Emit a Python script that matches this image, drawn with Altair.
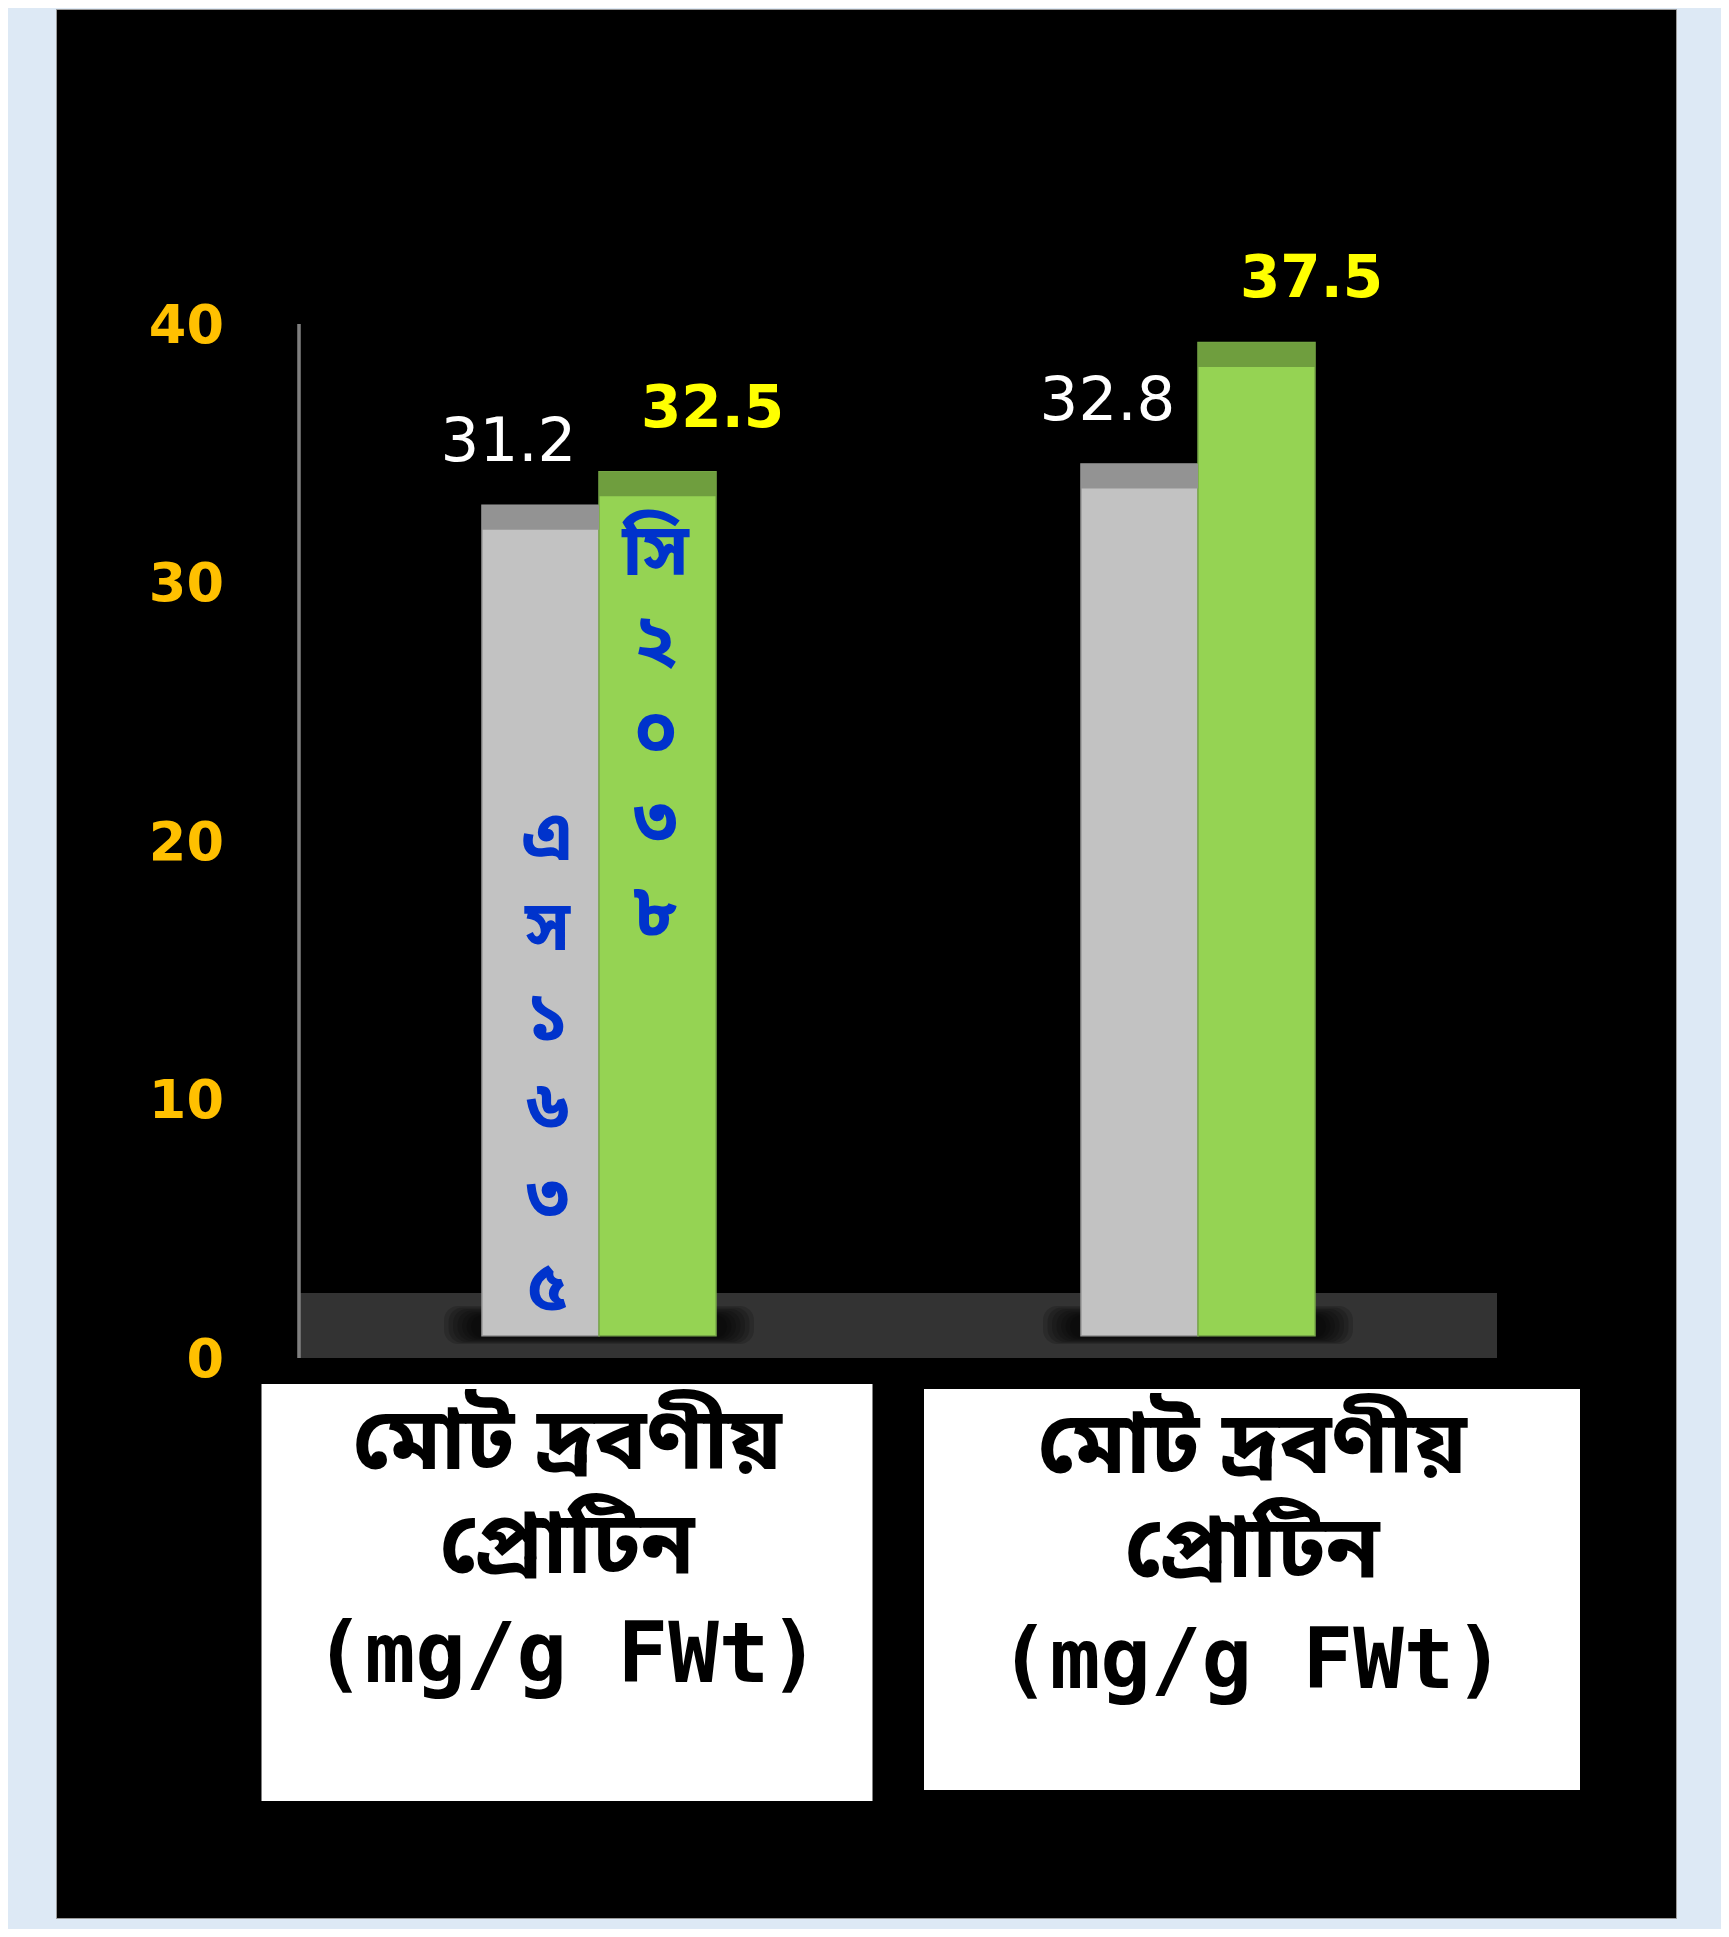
import unicodedata
import altair as alt
import pandas as pd

# ---------------- data ----------------
GROUP_IDS = ["g1", "g2"]
GROUP_TITLE_BN = ["মোট দ্রবণীয়\nপ্রোটিন", "মোট দ্রবণীয়\nপ্রোটিন"]
GROUP_TITLE_UNIT = ["(mg/g FWt)", "(mg/g FWt)"]
VARIETIES = ["এস১৬৩৫", "সি২০৩৮"]
VALUES_S1635 = [31.2, 32.8]
VALUES_C2038 = [32.5, 37.5]
TICKS = [0, 10, 20, 30, 40]

# ---------------- style ----------------
FLOOR_SHIFT = 1.9      # 3-D floor shift between tick labels and bar tops
BAR_BASE = -0.93       # bar foot (3-D floor)
CAP = 0.95             # darker 3-D top face thickness
Y_DOMAIN = [-23.45, 50.40]
BAR_LIGHT = ["#c2c2c2", "#95d353"]
BAR_DARK = ["#939393", "#6f9e3e"]
BAR_EDGE = ["#9a9a9a", "#78a848"]
BLUE = "#0033cc"
BG = "#dde9f5"
BN_FONT = "Noto Sans Bengali, Lohit Bengali, FreeSans, Noto Sans, sans-serif"


def graphemes(s):
    out = []
    for ch in s:
        if out and unicodedata.category(ch) in ("Mn", "Mc"):
            out[-1] += ch
        else:
            out.append(ch)
    return out


rows = []
for gi, g in enumerate(GROUP_IDS):
    for vi, (var, vals) in enumerate(zip(VARIETIES, [VALUES_S1635, VALUES_C2038])):
        rows.append({
            "group": g,
            "variety": var,
            "value": vals[gi],
            "label": f"{vals[gi]:.1f}",
            "vtext": "\n".join(graphemes(var)) if gi == 0 else "",
        })
df = pd.DataFrame(rows)
df["base"] = BAR_BASE
df["cap_lo"] = df["value"] - CAP

ticks_df = pd.DataFrame({"tick": TICKS})
titles_df = pd.DataFrame({"group": GROUP_IDS, "bn": GROUP_TITLE_BN, "unit": GROUP_TITLE_UNIT})

xscale = alt.Scale(domain=GROUP_IDS, paddingInner=0.6093, paddingOuter=0.6569, align=0.5413)
xoff = alt.Scale(domain=VARIETIES, paddingInner=0, paddingOuter=0)
yscale = alt.Scale(domain=Y_DOMAIN, nice=False, zero=False)

X = alt.X("group:N", scale=xscale, axis=None)
XO = alt.XOffset("variety:N", scale=xoff)
base = alt.Chart(df)

floor = alt.Chart(ticks_df).mark_rect(color="#333333").encode(
    x=alt.value(243), x2=alt.value(1441), y=alt.value(1284), y2=alt.value(1349)
)

# soft shadow under each bar pair (stack of faint rounded rects)
shadows = []
for k in range(7):
    w = 310 - 9 * k
    shadows.append(
        alt.Chart(titles_df).mark_bar(width=w, color="#000000", opacity=0.17, cornerRadius=14).encode(
            x=X, y=alt.value(1297 + 1.5 * k), y2=alt.value(1335 - k)
        )
    )

axis_line = alt.Chart(ticks_df).mark_rule(color="#7f7f7f", strokeWidth=2.5).encode(
    x=alt.value(243), y=alt.value(315), y2=alt.value(1349)
)

tick_labels = alt.Chart(ticks_df).transform_calculate(
    pos=f"datum.tick - {FLOOR_SHIFT}"
).mark_text(
    align="right", baseline="middle", font="DejaVu Sans", fontWeight="bold",
    fontSize=54, color="#ffc000"
).encode(x=alt.value(168), y=alt.Y("pos:Q", scale=yscale, axis=None), text="tick:Q")

bars = base.mark_bar(strokeWidth=1.5).encode(
    x=X, xOffset=XO,
    y=alt.Y("value:Q", scale=yscale, axis=None), y2="base:Q",
    color=alt.Color("variety:N", scale=alt.Scale(domain=VARIETIES, range=BAR_LIGHT), legend=None),
    stroke=alt.Stroke("variety:N", scale=alt.Scale(domain=VARIETIES, range=BAR_EDGE), legend=None),
)
caps = base.mark_bar().encode(
    x=X, xOffset=XO,
    y=alt.Y("value:Q", scale=yscale, axis=None), y2="cap_lo:Q",
    color=alt.Color("variety:N", scale=alt.Scale(domain=VARIETIES, range=BAR_DARK), legend=None),
)

val_gray = base.transform_filter(alt.datum.variety == VARIETIES[0]).mark_text(
    font="DejaVu Sans", fontSize=61, color="#ffffff", dx=-32, dy=-62, baseline="middle"
).encode(x=X, xOffset=XO, y=alt.Y("value:Q", scale=yscale, axis=None), text="label:N")
val_green = base.transform_filter(alt.datum.variety == VARIETIES[1]).mark_text(
    font="DejaVu Sans", fontWeight="bold", fontSize=58, color="#ffff00", dx=55, dy=-62, baseline="middle"
).encode(x=X, xOffset=XO, y=alt.Y("value:Q", scale=yscale, axis=None), text="label:N")

vt_gray = base.transform_filter(
    (alt.datum.variety == VARIETIES[0]) & (alt.datum.vtext != "")
).mark_text(
    font=BN_FONT, fontWeight="bold", fontSize=70, color=BLUE, lineBreak="\n", lineHeight=90,
    baseline="top", dx=7, dy=300
).encode(x=X, xOffset=XO, y=alt.Y("value:Q", scale=yscale, axis=None), text="vtext:N")
vt_green = base.transform_filter(
    (alt.datum.variety == VARIETIES[1]) & (alt.datum.vtext != "")
).mark_text(
    font=BN_FONT, fontWeight="bold", fontSize=72, color=BLUE, lineBreak="\n", lineHeight=90,
    baseline="top", dx=-2, dy=46
).encode(x=X, xOffset=XO, y=alt.Y("value:Q", scale=yscale, axis=None), text="vtext:N")

# white label boxes under the groups
BOX_DX = [-32, 54]
BOX_W = [611, 656]
BOX_Y = [(1375, 1792), (1380, 1781)]
TITLE_Y = [(1434, 1648), (1438, 1654)]
boxes = []
for i, g in enumerate(GROUP_IDS):
    one = alt.Chart(titles_df).transform_filter(alt.datum.group == g)
    boxes.append(
        one.mark_bar(width=BOX_W[i], color="#ffffff", xOffset=BOX_DX[i]).encode(
            x=X, y=alt.value(BOX_Y[i][0]), y2=alt.value(BOX_Y[i][1])
        )
    )
    boxes.append(
        one.mark_text(
            font=BN_FONT, fontWeight="bold", fontSize=87, color="#000000", lineBreak="\n",
            lineHeight=104, baseline="middle", dx=BOX_DX[i]
        ).encode(x=X, y=alt.value(TITLE_Y[i][0]), text="bn:N")
    )
    boxes.append(
        one.mark_text(
            font="DejaVu Sans Mono", fontWeight="bold", fontSize=84, color="#000000",
            baseline="middle", dx=BOX_DX[i]
        ).encode(x=X, y=alt.value(TITLE_Y[i][1]), text="unit:N")
    )

chart = alt.layer(
    floor, *shadows, axis_line, tick_labels, bars, caps, val_gray, val_green, vt_gray, vt_green, *boxes
).resolve_scale(color="independent").properties(
    width=1620, height=1909,
    autosize=alt.AutoSizeParams(type="none"),
    padding={"left": 48, "top": 1, "right": 45, "bottom": 11},
    background=BG,
).configure_view(fill="#000000", stroke="#9a9a9a", strokeWidth=1)

chart.save("out.html", embed_options={"renderer": "svg", "actions": False})
